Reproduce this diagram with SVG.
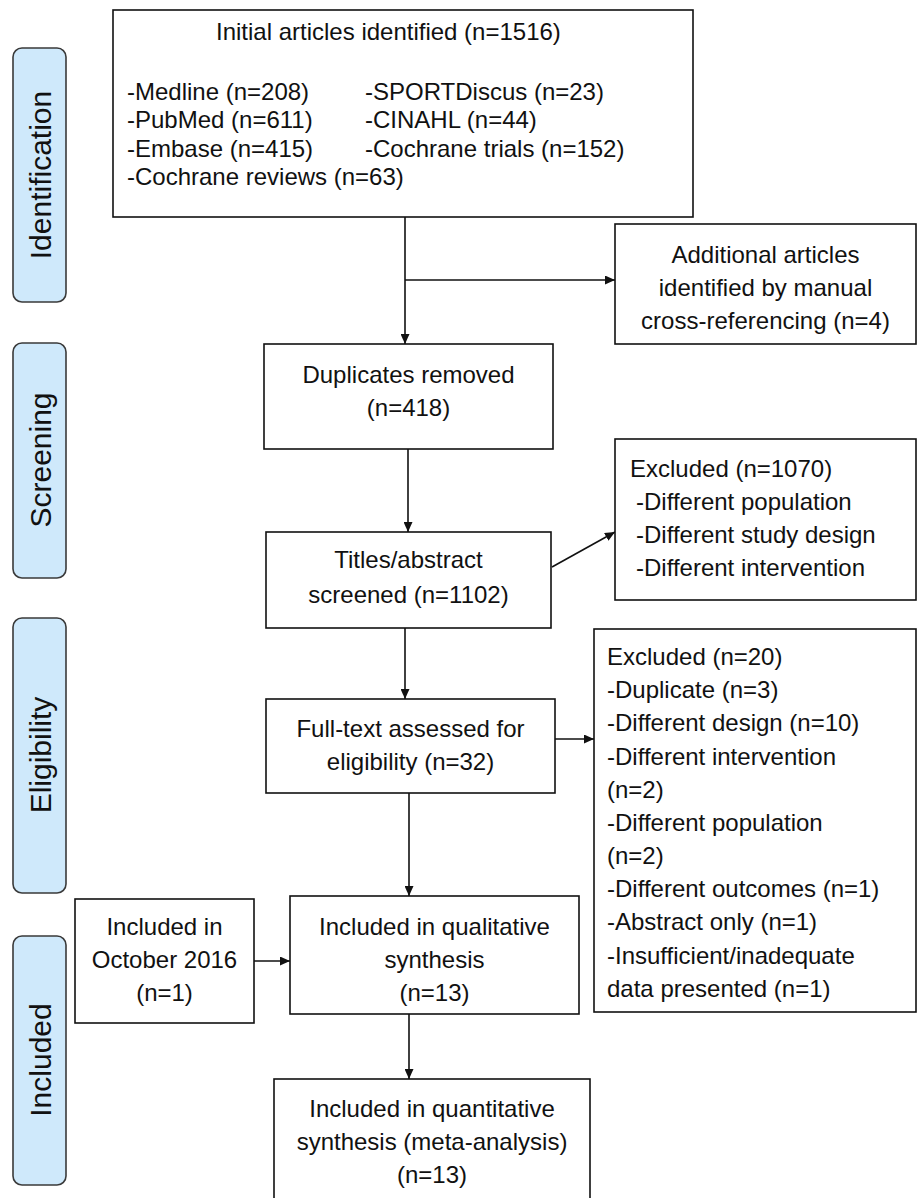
<svg xmlns="http://www.w3.org/2000/svg" width="918" height="1198" viewBox="0 0 918 1198">
<style>
.stage{fill:#cfe9fb;stroke:#3a3a3a;stroke-width:1.6}
.box{fill:#fff;stroke:#111;stroke-width:1.6}
.t{font-family:"Liberation Sans",Arial,sans-serif;font-size:24px;fill:#111}
.c{text-anchor:middle}
.st{font-family:"Liberation Sans",Arial,sans-serif;font-size:30px;fill:#111;text-anchor:middle}
.ln{stroke:#111;stroke-width:1.6;fill:none;marker-end:url(#ah)}
</style>
<defs>
<marker id="ah" markerUnits="userSpaceOnUse" markerWidth="11" markerHeight="9" refX="10" refY="4.5" orient="auto">
<path d="M0,0 L10,4.5 L0,9 z" fill="#111"/>
</marker>
</defs>
<rect width="918" height="1198" fill="#fff"/>

<g id="stage-identification">
<rect class="stage" x="13" y="48" width="53" height="254" rx="9"/>
<text class="st" transform="translate(51,175) rotate(-90)">Identification</text>
</g>
<g id="stage-screening">
<rect class="stage" x="13" y="343" width="53" height="235" rx="9"/>
<text class="st" transform="translate(51,460) rotate(-90)">Screening</text>
</g>
<g id="stage-eligibility">
<rect class="stage" x="13" y="618" width="53" height="275" rx="9"/>
<text class="st" transform="translate(51,755) rotate(-90)">Eligibility</text>
</g>
<g id="stage-included">
<rect class="stage" x="13" y="936" width="53" height="249" rx="9"/>
<text class="st" transform="translate(51,1060) rotate(-90)">Included</text>
</g>

<g id="connectors">
<line class="ln" x1="405" y1="217" x2="405" y2="344"/>
<line class="ln" x1="405" y1="280" x2="615" y2="280"/>
<line class="ln" x1="408" y1="449" x2="408" y2="532"/>
<line class="ln" x1="552" y1="567" x2="615" y2="532"/>
<line class="ln" x1="405" y1="628" x2="405" y2="699"/>
<line class="ln" x1="555" y1="739" x2="594" y2="739"/>
<line class="ln" x1="409" y1="793" x2="409" y2="896"/>
<line class="ln" x1="254" y1="961" x2="290" y2="961"/>
<line class="ln" x1="409" y1="1014" x2="409" y2="1079"/>
</g>

<g id="initial">
<rect class="box" x="113" y="10" width="580" height="207"/>
<text class="t" x="216" y="40">Initial articles identified (n=1516)</text>
<text class="t" x="127" y="100">-Medline (n=208)</text>
<text class="t" x="127" y="128">-PubMed (n=611)</text>
<text class="t" x="127" y="157">-Embase (n=415)</text>
<text class="t" x="127" y="185">-Cochrane reviews (n=63)</text>
<text class="t" x="365" y="100">-SPORTDiscus (n=23)</text>
<text class="t" x="365" y="128">-CINAHL (n=44)</text>
<text class="t" x="365" y="157">-Cochrane trials (n=152)</text>
</g>

<g id="additional">
<rect class="box" x="615" y="224" width="301" height="120"/>
<text class="t c" x="765.5" y="263">Additional articles</text>
<text class="t c" x="765.5" y="296">identified by manual</text>
<text class="t c" x="765.5" y="329">cross-referencing (n=4)</text>
</g>

<g id="duplicates">
<rect class="box" x="264" y="344" width="289" height="105"/>
<text class="t c" x="408.5" y="383">Duplicates removed</text>
<text class="t c" x="408.5" y="416">(n=418)</text>
</g>

<g id="titles">
<rect class="box" x="266" y="532" width="285" height="96"/>
<text class="t c" x="408.5" y="568">Titles/abstract</text>
<text class="t c" x="408.5" y="603">screened (n=1102)</text>
</g>

<g id="excluded-1070">
<rect class="box" x="615" y="439" width="301" height="161"/>
<text class="t" x="630" y="477">Excluded (n=1070)</text>
<text class="t" x="636" y="510">-Different population</text>
<text class="t" x="636" y="543">-Different study design</text>
<text class="t" x="636" y="576">-Different intervention</text>
</g>

<g id="fulltext">
<rect class="box" x="266" y="699" width="289" height="94"/>
<text class="t c" x="410.5" y="737">Full-text assessed for</text>
<text class="t c" x="410.5" y="770">eligibility (n=32)</text>
</g>

<g id="excluded-20">
<rect class="box" x="594" y="629" width="322" height="383"/>
<text class="t" x="607" y="665">Excluded (n=20)</text>
<text class="t" x="607" y="698">-Duplicate (n=3)</text>
<text class="t" x="607" y="731">-Different design (n=10)</text>
<text class="t" x="607" y="765">-Different intervention</text>
<text class="t" x="607" y="798">(n=2)</text>
<text class="t" x="607" y="831">-Different population</text>
<text class="t" x="607" y="864">(n=2)</text>
<text class="t" x="607" y="897">-Different outcomes (n=1)</text>
<text class="t" x="607" y="930">-Abstract only (n=1)</text>
<text class="t" x="607" y="964">-Insufficient/inadequate</text>
<text class="t" x="607" y="997">data presented (n=1)</text>
</g>

<g id="october">
<rect class="box" x="75" y="899" width="179" height="124"/>
<text class="t c" x="164.5" y="935">Included in</text>
<text class="t c" x="164.5" y="968">October 2016</text>
<text class="t c" x="164.5" y="1001">(n=1)</text>
</g>

<g id="qualitative">
<rect class="box" x="290" y="896" width="289" height="118"/>
<text class="t c" x="434.5" y="935">Included in qualitative</text>
<text class="t c" x="434.5" y="968">synthesis</text>
<text class="t c" x="434.5" y="1001">(n=13)</text>
</g>

<g id="quantitative">
<rect class="box" x="274" y="1079" width="316" height="130"/>
<text class="t c" x="432" y="1117">Included in quantitative</text>
<text class="t c" x="432" y="1150">synthesis (meta-analysis)</text>
<text class="t c" x="432" y="1183">(n=13)</text>
</g>
</svg>
